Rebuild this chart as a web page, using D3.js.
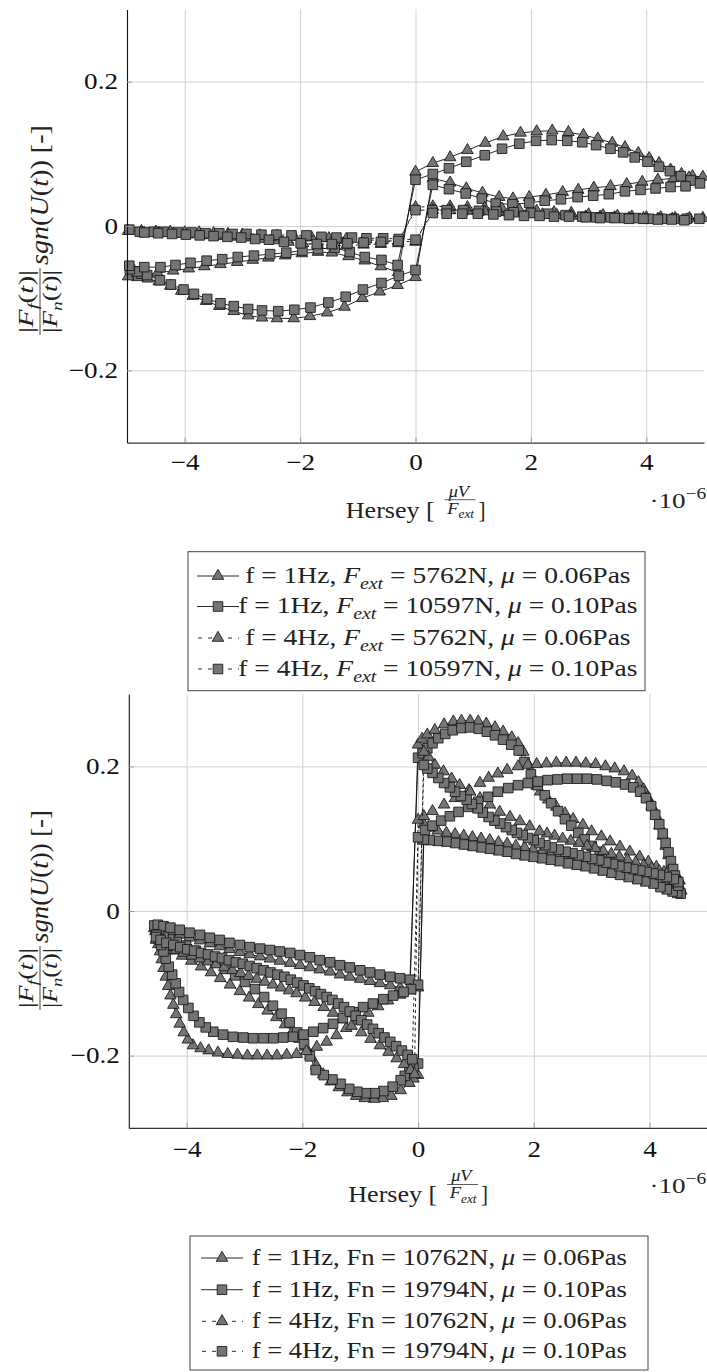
<!DOCTYPE html>
<html><head><meta charset="utf-8">
<script src="https://cdn.jsdelivr.net/npm/d3@7"></script>
<style>body{margin:0;background:#fff}svg{display:block}text{white-space:pre}</style>
</head><body>
<svg id="c" width="707" height="1372"></svg>
<script>
// ---------------- DATA ----------------
const xTicks = [-4, -2, 0, 2, 4];
const yTicks = [-0.2, 0, 0.2];
const xDomain = [-5, 5];
const yDomain = [-0.3, 0.3];
const xExponent = ["·10", "−6"];
const xLabelTop = "Hersey [";

const legendTop = [
  [["f = 1Hz, ",""],["F","i"],["ext","ib"],[" = 5762N, ",""],["μ","i"],[" = 0.06Pas",""]],
  [["f = 1Hz, ",""],["F","i"],["ext","ib"],[" = 10597N, ",""],["μ","i"],[" = 0.10Pas",""]],
  [["f = 4Hz, ",""],["F","i"],["ext","ib"],[" = 5762N, ",""],["μ","i"],[" = 0.06Pas",""]],
  [["f = 4Hz, ",""],["F","i"],["ext","ib"],[" = 10597N, ",""],["μ","i"],[" = 0.10Pas",""]]
];
const legendBot = [
  [["f = 1Hz, Fn = 10762N, ",""],["μ","i"],[" = 0.06Pas",""]],
  [["f = 1Hz, Fn = 19794N, ",""],["μ","i"],[" = 0.10Pas",""]],
  [["f = 4Hz, Fn = 10762N, ",""],["μ","i"],[" = 0.06Pas",""]],
  [["f = 4Hz, Fn = 19794N, ",""],["μ","i"],[" = 0.10Pas",""]]
];

// Top chart (x in 1e-6)
const top_f1_tri = [
 [0.00,0.075],[0.30,0.087],[0.60,0.095],[0.90,0.105],[1.21,0.115],[1.52,0.124],[1.82,0.129],[2.10,0.131],[2.37,0.132],[2.65,0.130],[2.91,0.126],[3.16,0.121],[3.41,0.115],[3.63,0.109],[3.86,0.101],[4.05,0.094],[4.22,0.087],[4.42,0.078],[4.61,0.072],[4.80,0.069],[4.98,0.068],
 [4.74,0.067],[4.47,0.066],[4.20,0.064],[3.93,0.061],[3.66,0.058],[3.38,0.055],[3.09,0.053],[2.82,0.050],[2.55,0.047],[2.26,0.043],[1.97,0.040],[1.69,0.038],[1.45,0.040],[1.16,0.046],[0.88,0.052],[0.60,0.060],[0.30,0.066],
 [0.00,-0.071],[-0.31,-0.082],[-0.62,-0.091],[-0.92,-0.100],[-1.23,-0.112],[-1.53,-0.120],[-1.83,-0.125],[-2.11,-0.128],[-2.40,-0.128],[-2.66,-0.127],[-2.90,-0.124],[-3.15,-0.118],[-3.40,-0.111],[-3.63,-0.104],[-3.86,-0.097],[-4.06,-0.090],[-4.25,-0.083],[-4.45,-0.077],[-4.64,-0.073],[-4.82,-0.071],[-4.98,-0.070],
 [-4.74,-0.068],[-4.47,-0.065],[-4.20,-0.062],[-3.93,-0.059],[-3.66,-0.056],[-3.38,-0.053],[-3.09,-0.050],[-2.82,-0.047],[-2.55,-0.044],[-2.26,-0.041],[-1.97,-0.038],[-1.69,-0.036],[-1.45,-0.037],[-1.16,-0.042],[-0.88,-0.048],[-0.60,-0.056],[-0.30,-0.064]
];
const top_f1_sq = [
 [0.00,0.064],[0.30,0.072],[0.58,0.080],[0.88,0.089],[1.20,0.098],[1.50,0.107],[1.80,0.114],[2.09,0.118],[2.36,0.119],[2.63,0.118],[2.89,0.116],[3.13,0.112],[3.38,0.107],[3.60,0.102],[3.80,0.095],[4.02,0.089],[4.22,0.082],[4.41,0.076],[4.60,0.069],[4.77,0.063],[4.93,0.059],
 [4.68,0.055],[4.42,0.054],[4.16,0.052],[3.90,0.050],[3.63,0.048],[3.35,0.044],[3.08,0.042],[2.81,0.040],[2.52,0.037],[2.24,0.035],[1.97,0.032],[1.68,0.030],[1.39,0.031],[1.15,0.038],[0.87,0.045],[0.58,0.051],[0.30,0.057],
 [0.00,-0.061],[-0.29,-0.069],[-0.59,-0.079],[-0.91,-0.088],[-1.21,-0.098],[-1.51,-0.106],[-1.82,-0.113],[-2.10,-0.116],[-2.38,-0.118],[-2.66,-0.117],[-2.90,-0.115],[-3.15,-0.111],[-3.38,-0.107],[-3.61,-0.101],[-3.84,-0.094],[-4.02,-0.088],[-4.24,-0.081],[-4.43,-0.075],[-4.65,-0.068],[-4.82,-0.063],[-4.95,-0.060],
 [-4.96,-0.055],[-4.70,-0.057],[-4.42,-0.057],[-4.16,-0.054],[-3.90,-0.051],[-3.62,-0.048],[-3.35,-0.046],[-3.08,-0.043],[-2.80,-0.041],[-2.52,-0.039],[-2.24,-0.037],[-1.96,-0.034],[-1.69,-0.032],[-1.40,-0.030],[-1.14,-0.036],[-0.88,-0.043],[-0.59,-0.047],[-0.31,-0.054]
];
const top_f4_tri = [
 [0.00,0.026],[0.30,0.027],[0.60,0.027],[0.90,0.026],[1.20,0.025],[1.50,0.024],[1.80,0.022],[2.10,0.021],[2.40,0.019],[2.70,0.018],[3.00,0.016],[3.25,0.015],[3.50,0.014],[3.75,0.013],[4.00,0.012],[4.25,0.012],[4.50,0.011],[4.75,0.011],[4.98,0.011],
 [4.70,0.009],[4.45,0.010],[4.20,0.010],[3.95,0.011],[3.70,0.011],[3.45,0.012],[3.20,0.013],[2.95,0.013],[2.70,0.014],[2.45,0.015],[2.20,0.016],[1.95,0.017],[1.70,0.018],[1.45,0.019],[1.20,0.020],[0.90,0.021],[0.60,0.022],[0.30,0.022],
 [0.00,-0.022],[-0.30,-0.021],[-0.60,-0.020],[-0.90,-0.019],[-1.20,-0.018],[-1.50,-0.017],[-1.80,-0.016],[-2.10,-0.015],[-2.40,-0.014],[-2.70,-0.013],[-3.00,-0.012],[-3.25,-0.011],[-3.50,-0.010],[-3.75,-0.009],[-4.00,-0.009],[-4.25,-0.008],[-4.50,-0.008],[-4.75,-0.007],[-4.98,-0.007],
 [-4.70,-0.010],[-4.45,-0.010],[-4.20,-0.011],[-3.95,-0.012],[-3.70,-0.013],[-3.45,-0.014],[-3.20,-0.015],[-2.95,-0.016],[-2.70,-0.018],[-2.45,-0.020],[-2.20,-0.022],[-1.95,-0.024],[-1.70,-0.026],[-1.45,-0.027],[-1.20,-0.027],[-0.90,-0.026],[-0.60,-0.025],[-0.30,-0.024]
];
const top_f4_sq = [
 [0.00,0.022],[0.29,0.022],[0.54,0.022],[0.83,0.022],[1.10,0.021],[1.40,0.020],[1.70,0.019],[2.00,0.018],[2.30,0.017],[2.60,0.015],[2.89,0.013],[3.13,0.012],[3.38,0.012],[3.62,0.011],[3.82,0.011],[4.05,0.010],[4.27,0.010],[4.48,0.010],[4.70,0.010],[4.92,0.010],
 [4.66,0.008],[4.44,0.009],[4.20,0.009],[3.95,0.010],[3.70,0.010],[3.45,0.011],[3.20,0.011],[2.95,0.012],[2.66,0.013],[2.40,0.013],[2.15,0.014],[1.88,0.014],[1.62,0.015],[1.35,0.016],[1.08,0.017],[0.81,0.017],[0.54,0.017],[0.30,0.018],
 [0.00,-0.019],[-0.29,-0.018],[-0.56,-0.017],[-0.85,-0.017],[-1.10,-0.016],[-1.37,-0.016],[-1.63,-0.015],[-1.89,-0.013],[-2.15,-0.013],[-2.41,-0.012],[-2.67,-0.012],[-2.93,-0.011],[-3.17,-0.011],[-3.40,-0.010],[-3.64,-0.010],[-3.88,-0.009],[-4.12,-0.009],[-4.36,-0.008],[-4.54,-0.008],[-4.78,-0.008],[-4.96,-0.005],
 [-4.70,-0.009],[-4.46,-0.010],[-4.22,-0.011],[-3.98,-0.012],[-3.74,-0.013],[-3.50,-0.014],[-3.26,-0.015],[-3.02,-0.016],[-2.78,-0.018],[-2.54,-0.019],[-2.28,-0.022],[-1.99,-0.024],[-1.71,-0.025],[-1.45,-0.025],[-1.18,-0.024],[-0.90,-0.023],[-0.60,-0.022],[-0.30,-0.021]
];

// Bottom chart
const bot_f1_tri = [
 [0.00,0.230],[0.07,0.238],[0.16,0.244],[0.29,0.250],[0.45,0.258],[0.61,0.262],[0.75,0.263],[0.90,0.263],[1.04,0.262],[1.18,0.259],[1.33,0.254],[1.47,0.248],[1.62,0.240],[1.73,0.232],[1.82,0.220],[1.90,0.203],[1.98,0.186],[2.05,0.173],[2.11,0.165],[2.25,0.154],[2.39,0.144],[2.54,0.135],[2.68,0.127],[2.85,0.119],[3.00,0.110],[3.17,0.103],[3.32,0.096],[3.49,0.089],[3.66,0.082],[3.83,0.075],[3.98,0.068],[4.12,0.061],[4.25,0.054],[4.35,0.048],[4.43,0.042],[4.49,0.036],[4.53,0.031],
 [4.55,0.028],[4.50,0.030],[4.42,0.032],[4.32,0.035],[4.20,0.038],[4.07,0.042],[3.93,0.046],[3.79,0.049],[3.64,0.052],[3.49,0.055],[3.34,0.058],[3.19,0.061],[3.04,0.064],[2.89,0.067],[2.74,0.070],[2.59,0.073],[2.44,0.076],[2.29,0.079],[2.14,0.082],[1.99,0.085],[1.84,0.088],[1.69,0.090],[1.54,0.093],[1.39,0.095],[1.24,0.098],[1.09,0.100],[0.94,0.102],[0.79,0.104],[0.64,0.106],[0.49,0.108],[0.34,0.111],[0.20,0.115],[0.10,0.120],
 [0.00,-0.227],[-0.08,-0.232],[-0.15,-0.238],[-0.30,-0.248],[-0.46,-0.256],[-0.61,-0.259],[-0.76,-0.260],[-0.92,-0.259],[-1.07,-0.256],[-1.22,-0.251],[-1.37,-0.244],[-1.51,-0.236],[-1.64,-0.226],[-1.76,-0.214],[-1.86,-0.200],[-1.95,-0.188],[-2.05,-0.177],[-2.17,-0.167],[-2.30,-0.157],[-2.45,-0.147],[-2.60,-0.138],[-2.76,-0.129],[-2.92,-0.120],[-3.08,-0.111],[-3.25,-0.102],[-3.42,-0.093],[-3.58,-0.085],[-3.75,-0.077],[-3.92,-0.069],[-4.08,-0.062],[-4.22,-0.055],[-4.34,-0.048],[-4.43,-0.041],[-4.50,-0.034],[-4.54,-0.028],
 [-4.56,-0.024],[-4.50,-0.024],[-4.40,-0.026],[-4.28,-0.029],[-4.12,-0.033],[-3.95,-0.037],[-3.77,-0.041],[-3.60,-0.045],[-3.43,-0.049],[-3.26,-0.053],[-3.08,-0.057],[-2.91,-0.060],[-2.73,-0.063],[-2.56,-0.066],[-2.39,-0.069],[-2.21,-0.072],[-2.04,-0.075],[-1.87,-0.078],[-1.70,-0.081],[-1.52,-0.084],[-1.35,-0.088],[-1.18,-0.091],[-1.00,-0.094],[-0.83,-0.097],[-0.66,-0.100],[-0.48,-0.103],[-0.31,-0.106],[-0.14,-0.110]
];
const bot_f1_sq = [
 [0.00,0.212],[0.08,0.218],[0.16,0.225],[0.25,0.232],[0.35,0.239],[0.47,0.245],[0.60,0.250],[0.75,0.253],[0.90,0.254],[1.05,0.252],[1.19,0.248],[1.33,0.243],[1.47,0.237],[1.61,0.230],[1.74,0.222],[1.84,0.206],[1.95,0.189],[2.07,0.174],[2.19,0.160],[2.30,0.149],[2.42,0.138],[2.54,0.127],[2.65,0.118],[2.77,0.108],[2.88,0.099],[3.00,0.090],[3.14,0.082],[3.28,0.074],[3.42,0.067],[3.56,0.061],[3.70,0.055],[3.84,0.050],[3.98,0.046],[4.11,0.042],[4.22,0.038],[4.32,0.035],[4.40,0.032],[4.46,0.030],[4.51,0.027],
 [4.54,0.024],[4.48,0.025],[4.40,0.027],[4.30,0.030],[4.19,0.033],[4.07,0.038],[3.93,0.041],[3.79,0.044],[3.64,0.047],[3.49,0.050],[3.34,0.053],[3.19,0.056],[3.04,0.059],[2.89,0.062],[2.74,0.064],[2.59,0.066],[2.44,0.069],[2.29,0.071],[2.14,0.073],[1.99,0.075],[1.84,0.077],[1.69,0.079],[1.54,0.082],[1.39,0.084],[1.24,0.086],[1.09,0.088],[0.94,0.090],[0.79,0.092],[0.64,0.094],[0.49,0.096],[0.34,0.097],[0.20,0.098],[0.10,0.099],
 [0.00,-0.211],[-0.08,-0.216],[-0.15,-0.222],[-0.23,-0.228],[-0.30,-0.234],[-0.44,-0.243],[-0.60,-0.249],[-0.75,-0.252],[-0.90,-0.252],[-1.05,-0.250],[-1.19,-0.246],[-1.34,-0.239],[-1.48,-0.233],[-1.63,-0.227],[-1.77,-0.220],[-1.87,-0.201],[-1.97,-0.184],[-2.09,-0.168],[-2.22,-0.154],[-2.36,-0.142],[-2.51,-0.131],[-2.66,-0.119],[-2.82,-0.108],[-2.99,-0.098],[-3.16,-0.089],[-3.33,-0.080],[-3.50,-0.071],[-3.67,-0.062],[-3.84,-0.055],[-4.01,-0.048],[-4.17,-0.043],[-4.30,-0.039],[-4.40,-0.035],[-4.48,-0.031],[-4.53,-0.027],
 [-4.56,-0.020],[-4.50,-0.019],[-4.40,-0.021],[-4.28,-0.023],[-4.12,-0.026],[-3.95,-0.030],[-3.77,-0.033],[-3.60,-0.037],[-3.43,-0.040],[-3.26,-0.044],[-3.08,-0.047],[-2.91,-0.050],[-2.73,-0.052],[-2.56,-0.054],[-2.39,-0.056],[-2.21,-0.058],[-2.04,-0.061],[-1.87,-0.064],[-1.70,-0.068],[-1.52,-0.071],[-1.35,-0.075],[-1.18,-0.078],[-1.00,-0.082],[-0.83,-0.085],[-0.66,-0.088],[-0.48,-0.091],[-0.31,-0.093],[-0.14,-0.095]
];
const bot_f4_tri = [
 [0.00,0.126],[0.10,0.131],[0.25,0.138],[0.45,0.147],[0.64,0.156],[0.88,0.167],[1.07,0.177],[1.22,0.184],[1.38,0.190],[1.54,0.195],[1.73,0.200],[1.90,0.202],[2.05,0.203],[2.22,0.204],[2.39,0.205],[2.56,0.205],[2.73,0.205],[2.90,0.204],[3.07,0.203],[3.24,0.200],[3.40,0.197],[3.56,0.193],[3.70,0.187],[3.81,0.178],[3.90,0.168],[3.97,0.157],[4.04,0.145],[4.11,0.132],[4.17,0.118],[4.23,0.104],[4.28,0.090],[4.33,0.077],[4.38,0.065],[4.42,0.054],[4.46,0.044],[4.50,0.036],
 [4.52,0.042],[4.42,0.047],[4.30,0.051],[4.17,0.055],[4.04,0.059],[3.90,0.063],[3.76,0.067],[3.62,0.071],[3.48,0.075],[3.34,0.079],[3.20,0.083],[3.06,0.087],[2.92,0.090],[2.78,0.094],[2.64,0.097],[2.50,0.100],[2.36,0.104],[2.23,0.107],[2.10,0.110],[1.93,0.117],[1.76,0.124],[1.59,0.130],[1.41,0.137],[1.24,0.147],[1.07,0.156],[0.90,0.165],[0.72,0.174],[0.58,0.183],[0.44,0.193],[0.29,0.202],[0.18,0.213],[0.10,0.220],
 [0.00,-0.106],[-0.14,-0.109],[-0.31,-0.116],[-0.52,-0.124],[-0.69,-0.132],[-0.86,-0.141],[-1.06,-0.152],[-1.24,-0.162],[-1.41,-0.172],[-1.58,-0.181],[-1.75,-0.188],[-1.93,-0.194],[-2.10,-0.198],[-2.27,-0.199],[-2.44,-0.200],[-2.61,-0.200],[-2.78,-0.200],[-2.95,-0.200],[-3.12,-0.199],[-3.29,-0.198],[-3.46,-0.196],[-3.62,-0.193],[-3.76,-0.190],[-3.89,-0.186],[-3.98,-0.178],[-4.05,-0.168],[-4.12,-0.156],[-4.18,-0.143],[-4.23,-0.130],[-4.28,-0.117],[-4.32,-0.104],[-4.36,-0.091],[-4.40,-0.079],[-4.43,-0.067],[-4.46,-0.056],[-4.49,-0.046],[-4.52,-0.038],
 [-4.53,-0.040],[-4.43,-0.045],[-4.31,-0.050],[-4.18,-0.054],[-4.05,-0.058],[-3.91,-0.062],[-3.77,-0.066],[-3.63,-0.070],[-3.49,-0.074],[-3.35,-0.078],[-3.21,-0.082],[-3.07,-0.086],[-2.93,-0.090],[-2.79,-0.094],[-2.65,-0.098],[-2.51,-0.102],[-2.37,-0.106],[-2.23,-0.110],[-2.10,-0.114],[-1.95,-0.120],[-1.79,-0.126],[-1.63,-0.133],[-1.47,-0.141],[-1.31,-0.150],[-1.15,-0.159],[-0.98,-0.168],[-0.82,-0.177],[-0.66,-0.186],[-0.51,-0.195],[-0.37,-0.204],[-0.24,-0.212],[-0.13,-0.220],[-0.06,-0.226]
];
const bot_f4_sq = [
 [0.00,0.102],[0.12,0.112],[0.25,0.118],[0.40,0.125],[0.55,0.131],[0.70,0.137],[0.87,0.144],[1.04,0.151],[1.21,0.158],[1.38,0.165],[1.56,0.170],[1.73,0.174],[1.90,0.177],[2.07,0.179],[2.24,0.181],[2.41,0.182],[2.58,0.183],[2.75,0.183],[2.92,0.183],[3.09,0.182],[3.26,0.180],[3.42,0.178],[3.58,0.175],[3.72,0.171],[3.84,0.165],[3.94,0.156],[4.03,0.145],[4.10,0.133],[4.17,0.120],[4.23,0.107],[4.28,0.094],[4.33,0.081],[4.37,0.069],[4.41,0.058],[4.44,0.049],[4.47,0.041],[4.50,0.035],
 [4.50,0.040],[4.42,0.044],[4.30,0.047],[4.18,0.050],[4.07,0.052],[3.95,0.054],[3.84,0.056],[3.72,0.058],[3.60,0.060],[3.48,0.062],[3.37,0.065],[3.25,0.067],[3.13,0.070],[3.01,0.072],[2.90,0.075],[2.78,0.077],[2.67,0.080],[2.55,0.082],[2.43,0.085],[2.31,0.088],[2.20,0.091],[2.10,0.094],[2.00,0.098],[1.90,0.101],[1.81,0.105],[1.71,0.108],[1.62,0.112],[1.52,0.116],[1.42,0.121],[1.32,0.125],[1.22,0.130],[1.12,0.136],[1.03,0.142],[0.93,0.148],[0.84,0.154],[0.74,0.159],[0.64,0.165],[0.55,0.171],[0.45,0.177],[0.35,0.184],[0.25,0.191],[0.16,0.197],[0.10,0.202],
 [0.00,-0.102],[-0.12,-0.108],[-0.25,-0.112],[-0.43,-0.117],[-0.60,-0.122],[-0.78,-0.128],[-0.95,-0.133],[-1.12,-0.140],[-1.30,-0.148],[-1.47,-0.156],[-1.64,-0.162],[-1.81,-0.167],[-1.98,-0.171],[-2.16,-0.174],[-2.33,-0.175],[-2.50,-0.176],[-2.67,-0.176],[-2.85,-0.176],[-3.02,-0.175],[-3.20,-0.174],[-3.37,-0.171],[-3.54,-0.167],[-3.67,-0.161],[-3.78,-0.154],[-3.88,-0.145],[-3.97,-0.134],[-4.06,-0.123],[-4.13,-0.112],[-4.19,-0.100],[-4.25,-0.088],[-4.31,-0.077],[-4.36,-0.066],[-4.40,-0.056],[-4.44,-0.047],[-4.48,-0.039],[-4.52,-0.033],
 [-4.53,-0.036],[-4.45,-0.040],[-4.35,-0.044],[-4.23,-0.047],[-4.11,-0.050],[-3.99,-0.053],[-3.87,-0.055],[-3.75,-0.058],[-3.63,-0.060],[-3.51,-0.063],[-3.39,-0.065],[-3.27,-0.068],[-3.15,-0.071],[-3.03,-0.073],[-2.91,-0.076],[-2.79,-0.079],[-2.67,-0.082],[-2.55,-0.085],[-2.43,-0.088],[-2.31,-0.091],[-2.20,-0.095],[-2.09,-0.099],[-1.98,-0.103],[-1.88,-0.107],[-1.78,-0.111],[-1.68,-0.115],[-1.58,-0.119],[-1.48,-0.123],[-1.38,-0.128],[-1.28,-0.133],[-1.18,-0.139],[-1.08,-0.145],[-0.98,-0.151],[-0.88,-0.157],[-0.78,-0.163],[-0.68,-0.169],[-0.58,-0.175],[-0.48,-0.181],[-0.38,-0.187],[-0.28,-0.193],[-0.18,-0.199],[-0.10,-0.205]
];

// ---------------- STYLE / LAYOUT ----------------
const FONT = "'Liberation Serif','Times New Roman',serif";
const SX = 1.18;
const styles = [
  {shape: d3.symbolTriangle, size: 58, dash: null},
  {shape: d3.symbolSquare,   size: 92, dash: null},
  {shape: d3.symbolTriangle, size: 58, dash: "3,3"},
  {shape: d3.symbolSquare,   size: 92, dash: "3,3"}
];
const svg = d3.select("#c");

function rich(parent, parts, fs, x, y, anchor) {
  const t = parent.append("text").attr("x", x).attr("y", y)
    .attr("font-family", FONT).attr("font-size", fs).attr("fill", "#222");
  if (anchor) t.attr("text-anchor", anchor);
  let cur = 0;
  for (const [s, k] of parts) {
    const ts = t.append("tspan").text(s);
    let target = 0, size = fs;
    if (k.includes("i")) ts.attr("font-style", "italic");
    if (k.includes("b")) { target = fs * 0.26; size = fs * 0.72; }
    if (k.includes("p")) { target = -fs * 0.42; size = fs * 0.72; }
    if (size !== fs) ts.attr("font-size", size);
    if (target !== cur) { ts.attr("dy", target - cur); cur = target; }
  }
  return t;
}
function fitX(t, x0, w) {
  const bb = t.node().getBBox();
  const k = w / bb.width;
  t.attr("transform", `translate(${x0},0) scale(${k},1) translate(${-bb.x},0)`);
  return k;
}

function chart(cfg) {
  const x = d3.scaleLinear(xDomain, cfg.xr);
  const y = d3.scaleLinear(yDomain, cfg.yr);
  const g = svg.append("g");
  const H = cfg.yr[0] - cfg.yr[1], W = cfg.xr[1] - cfg.xr[0];
  // grid
  g.append("g").attr("transform", `translate(0,${cfg.yr[0]})`)
    .call(d3.axisBottom(x).tickValues(xTicks).tickSize(-H).tickFormat(""))
    .call(s => { s.select(".domain").remove(); s.selectAll("line").attr("stroke", "#d2d2d2").attr("stroke-width", 1); });
  g.append("g").attr("transform", `translate(${cfg.xr[0]},0)`)
    .call(d3.axisLeft(y).tickValues(yTicks).tickSize(-W).tickFormat(""))
    .call(s => { s.select(".domain").remove(); s.selectAll("line").attr("stroke", "#d2d2d2").attr("stroke-width", 1); });
  // series
  const line = d3.line().x(d => x(d[0])).y(d => y(d[1])).curve(d3.curveLinearClosed);
  cfg.series.forEach((data, i) => {
    const st = styles[i];
    g.append("path").datum(data).attr("d", line).attr("fill", "none")
      .attr("stroke", "#111").attr("stroke-width", 0.9).attr("stroke-dasharray", st.dash);
    const sym = d3.symbol(st.shape, st.size);
    g.append("g").selectAll("path").data(data).join("path")
      .attr("transform", d => `translate(${x(d[0])},${y(d[1])})`)
      .attr("d", sym).attr("fill", "#747474").attr("stroke", "#151515").attr("stroke-width", 0.85);
  });
  // axes
  const fx = d => d3.format("d")(d);
  const fy = d => d === 0 ? "0" : d3.format(".1f")(d);
  const ax = g.append("g").attr("transform", `translate(0,${cfg.yr[0]})`)
    .call(d3.axisBottom(x).tickValues(xTicks).tickSizeInner(-5).tickSizeOuter(0).tickPadding(cfg.xpad).tickFormat(fx));
  ax.select(".domain").attr("stroke", "#333").attr("stroke-width", 1.3);
  ax.selectAll(".tick line").attr("stroke", "#999");
  ax.selectAll("text").attr("font-family", FONT).attr("font-size", 23).attr("fill", "#111")
    .attr("transform", `scale(${SX},1)`);
  const ay = g.append("g").attr("transform", `translate(${cfg.xr[0]},0)`)
    .call(d3.axisLeft(y).tickValues(yTicks).tickSizeInner(-5).tickSizeOuter(0).tickPadding(9).tickFormat(fy));
  ay.select(".domain").attr("stroke", "#111").attr("stroke-width", 1.1);
  ay.selectAll(".tick line").attr("stroke", "#999");
  ay.selectAll("text").attr("font-family", FONT).attr("font-size", 23).attr("fill", "#111")
    .attr("x", -9 / SX).attr("transform", `scale(${SX},1)`);

  // y label (rotated)
  const yl = svg.append("g").attr("transform", `translate(40,${cfg.ylc}) rotate(-90)`);
  const L = cfg.ylLen / 2;
  const fr = cfg.frLen;
  const num = rich(yl, [["|",""],["F","i"],["f","ib"],["(",""],["t","i"],[")|",""]], 20, 0, -7);
  fitX(num, -L + 2, fr - 4);
  yl.append("line").attr("x1", -L).attr("x2", -L + fr).attr("y1", 0).attr("y2", 0)
    .attr("stroke", "#333").attr("stroke-width", 0.9);
  const den = rich(yl, [["|",""],["F","i"],["n","ib"],["(",""],["t","i"],[")|",""]], 20, 0, 17);
  fitX(den, -L + 2, fr - 4);
  const main = rich(yl, [["sgn","i"],["(",""],["U","i"],["(",""],["t","i"],["))",""],[" [-]",""]], 25, 0, 8);
  fitX(main, -L + fr + 3, 2 * L - fr - 3);

  // x label
  const xb = cfg.xlb, dx = cfg.xshift;
  const h1 = rich(svg, [[xLabelTop, ""]], 24, 0, xb);
  fitX(h1, 345.8 + dx, 89);
  const nm = rich(svg, [["μV", "i"]], 16, 0, xb - 21);
  fitX(nm, 447.5 + dx, 24);
  svg.append("line").attr("x1", 444.6 + dx).attr("x2", 475.5 + dx).attr("y1", xb - 18).attr("y2", xb - 18)
    .attr("stroke", "#333").attr("stroke-width", 0.8);
  const dn = rich(svg, [["F", "i"], ["ext", "ib"]], 16, 0, xb - 4);
  fitX(dn, 446 + dx, 29);
  const h2 = rich(svg, [["]", ""]], 24, 0, xb);
  fitX(h2, 478.6 + dx, 7);
  const ex = rich(svg, [[xExponent[0], ""], [xExponent[1], "p"]], 22, 0, cfg.exb);
  fitX(ex, 649.5, 57);

  // legend
  const lg = cfg.legend;
  svg.append("rect").attr("x", lg.x).attr("y", lg.y).attr("width", lg.w).attr("height", lg.h)
    .attr("fill", "#fff").attr("stroke", "#444").attr("stroke-width", 1);
  let k = null;
  lg.labels.forEach((parts, i) => {
    const by = lg.base[i];
    const t = rich(svg, parts, 22.5, 0, by);
    const bb = t.node().getBBox();
    if (k === null) k = lg.tw / bb.width;
    const w = bb.width * k;
    t.attr("transform", `translate(${lg.tc - w / 2},0) scale(${k},1) translate(${-bb.x},0)`);
    const st = styles[i];
    const cy = by - 7;
    svg.append("line").attr("x1", lg.sx - 21).attr("x2", lg.sx + 21).attr("y1", cy).attr("y2", cy)
      .attr("stroke", "#111").attr("stroke-width", 0.9).attr("stroke-dasharray", st.dash ? "4,6" : null)
      .attr("stroke-dashoffset", st.dash ? -1 : null);
    svg.append("path").attr("transform", `translate(${lg.sx},${cy})`)
      .attr("d", d3.symbol(st.shape, st.size)).attr("fill", "#747474").attr("stroke", "#151515").attr("stroke-width", 0.85);
  });
}

chart({
  xr: [127, 704], yr: [442.6, 9.4], xpad: 11, series: [top_f1_tri, top_f1_sq, top_f4_tri, top_f4_sq],
  ylc: 230, ylLen: 210, frLen: 67, xlb: 517.7, xshift: 0, exb: 508,
  legend: {x: 188, y: 551.7, w: 457, h: 139, base: [583, 613.5, 645, 676], tc: 438, tw: 385.7, sx: 218, labels: legendTop}
});
chart({
  xr: [128.8, 707.3], yr: [1127.9, 694.1], xpad: 13, series: [bot_f1_tri, bot_f1_sq, bot_f4_tri, bot_f4_sq],
  ylc: 910, ylLen: 200, frLen: 64, xlb: 1202.5, xshift: 2.5, exb: 1193,
  legend: {x: 190, y: 1236, w: 458, h: 134, base: [1265, 1296.7, 1328.3, 1358.3], tc: 439.3, tw: 375.3, sx: 222, labels: legendBot}
});
</script>
</body></html>
